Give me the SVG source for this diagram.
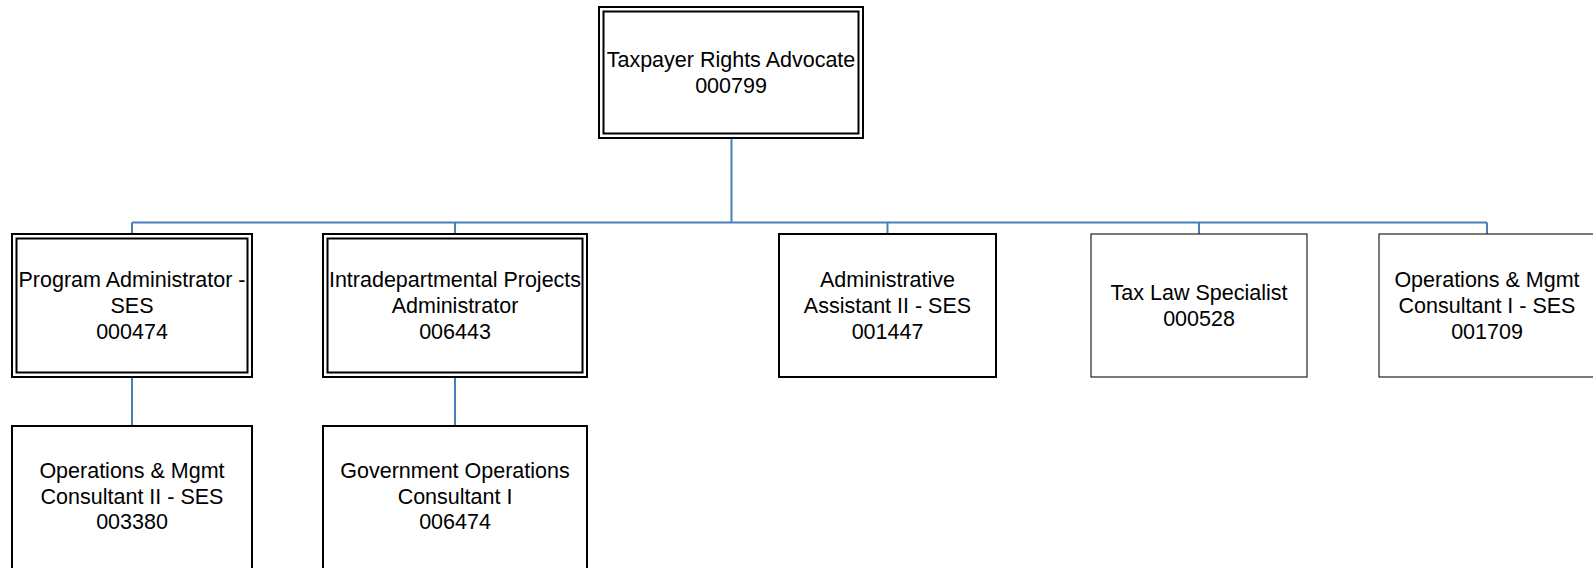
<svg xmlns="http://www.w3.org/2000/svg" width="1593" height="568" viewBox="0 0 1593 568">
  <style>
    .box { fill: #ffffff; stroke: #000000; stroke-width: 2; }
    .thin { fill: #ffffff; stroke: #222222; stroke-width: 1.2; }
    .inner { fill: none; stroke: #000000; stroke-width: 2; }
    .label { font-family: "Liberation Sans", Arial, sans-serif; font-size: 21.5px; fill: #000000; text-anchor: middle; }
    .link { fill: none; stroke: #4a7ebb; stroke-width: 2; }
  </style>
  <rect width="1593" height="568" fill="#ffffff"/>

  <!-- reporting lines -->
  <g id="connectors">
    <path class="link" d="M731.5 138 V222.5"/>
    <path class="link" d="M132 222.5 H1487"/>
    <path class="link" d="M132 222.5 V233"/>
    <path class="link" d="M455 222.5 V233"/>
    <path class="link" d="M887.5 222.5 V234"/>
    <path class="link" d="M1199 222.5 V234"/>
    <path class="link" d="M1487 222.5 V234"/>
    <path class="link" d="M132 377 V426"/>
    <path class="link" d="M455 377 V426"/>
  </g>

  <g id="node-000799">
    <rect class="box" x="599" y="7" width="264" height="131"/>
    <rect class="inner" x="603.5" y="11.5" width="255" height="122"/>
    <text class="label" x="731" y="67">Taxpayer Rights Advocate</text>
    <text class="label" x="731" y="93">000799</text>
  </g>

  <g id="node-000474">
    <rect class="box" x="12" y="234" width="240" height="143"/>
    <rect class="inner" x="16.5" y="238.5" width="231" height="134"/>
    <text class="label" x="132" y="287">Program Administrator -</text>
    <text class="label" x="132" y="313">SES</text>
    <text class="label" x="132" y="339">000474</text>
  </g>

  <g id="node-006443">
    <rect class="box" x="323" y="234" width="264" height="143"/>
    <rect class="inner" x="327.5" y="238.5" width="255" height="134"/>
    <text class="label" x="455" y="287">Intradepartmental Projects</text>
    <text class="label" x="455" y="313">Administrator</text>
    <text class="label" x="455" y="339">006443</text>
  </g>

  <g id="node-001447">
    <rect class="box" x="779" y="234" width="217" height="143"/>
    <text class="label" x="887.5" y="287">Administrative</text>
    <text class="label" x="887.5" y="313">Assistant II - SES</text>
    <text class="label" x="887.5" y="339">001447</text>
  </g>

  <g id="node-000528">
    <rect class="thin" x="1091" y="234" width="216" height="143"/>
    <text class="label" x="1199" y="300">Tax Law Specialist</text>
    <text class="label" x="1199" y="326">000528</text>
  </g>

  <g id="node-001709">
    <rect class="thin" x="1379" y="234" width="216" height="143"/>
    <text class="label" x="1487" y="287">Operations &amp; Mgmt</text>
    <text class="label" x="1487" y="313">Consultant I - SES</text>
    <text class="label" x="1487" y="339">001709</text>
  </g>

  <g id="node-003380">
    <rect class="box" x="12" y="426" width="240" height="144"/>
    <text class="label" x="132" y="478">Operations &amp; Mgmt</text>
    <text class="label" x="132" y="503.5">Consultant II - SES</text>
    <text class="label" x="132" y="529">003380</text>
  </g>

  <g id="node-006474">
    <rect class="box" x="323" y="426" width="264" height="144"/>
    <text class="label" x="455" y="478">Government Operations</text>
    <text class="label" x="455" y="503.5">Consultant I</text>
    <text class="label" x="455" y="529">006474</text>
  </g>
</svg>
